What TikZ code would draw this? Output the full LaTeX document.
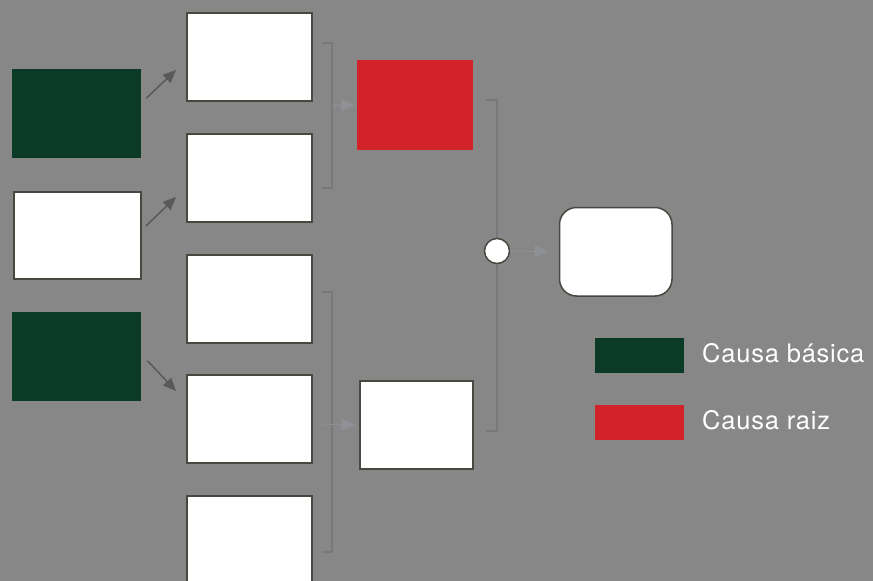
\documentclass[tikz,border=0pt]{standalone}
\usepackage{fontspec}
\newfontfamily\legfont[LetterSpace=3]{TeX Gyre Heros}
\usetikzlibrary{arrows.meta}
\definecolor{bgc}{HTML}{868786}
\definecolor{grn}{HTML}{0B3A27}
\definecolor{rd}{HTML}{D2232A}
\definecolor{bord}{HTML}{4A4640}
\definecolor{darr}{HTML}{58595B}
\definecolor{brk}{HTML}{777878}
\definecolor{larr}{HTML}{909196}
\tikzset{
  wbox/.style={draw=bord, fill=white, line width=2pt, inner sep=0pt, anchor=north west,
    minimum width=#1, minimum height=88pt},
  gbox/.style={fill=grn, inner sep=0pt, anchor=north west, minimum width=129pt, minimum height=89pt},
  rbox/.style={fill=rd, inner sep=0pt, anchor=north west, minimum width=116pt, minimum height=90pt},
  darkarrow/.style={draw=darr, line width=1.5pt, -{Triangle[length=13pt,width=11pt]}},
  lightarrow/.style={draw=larr, line width=1pt, -{Triangle[length=14pt,width=12pt]}},
  bracket/.style={draw=brk, line width=2pt},
  legbox/.style={inner sep=0pt, anchor=north west, minimum width=89pt, minimum height=35pt},
  legtext/.style={text=white, inner sep=0pt, anchor=base west, font=\legfont\fontsize{25.5pt}{29pt}\selectfont}
}
\begin{document}
\begin{tikzpicture}[x=1pt,y=-1pt]
\fill[bgc] (0,0) rectangle (873,581);
\useasboundingbox (0,0) rectangle (873,581);
\clip (0,0) rectangle (873,581);
% left column
\node[gbox] (L1) at (12,69) {};
\node[wbox=127pt, minimum height=87pt] (L2) at (13,191) {};
\node[gbox] (L3) at (12,312) {};
% middle column
\node[wbox=125pt] (M1) at (186,12) {};
\node[wbox=125pt] (M2) at (186,133) {};
\node[wbox=125pt] (M3) at (186,254) {};
\node[wbox=125pt] (M4) at (186,374) {};
\node[wbox=125pt] (M5) at (186,495) {};
% right column
\node[rbox] (R) at (357,60) {};
\node[wbox=113pt] (W2) at (359,380) {};
% junction and final
\coordinate (C0) at (497,251);
% brackets
\coordinate (b1t) at (332,43);
\coordinate (b1b) at (332,188);
\draw[bracket] (322,43) -- (b1t) -- (b1b) -- (322,188);
\coordinate (b2t) at (332,292);
\coordinate (b2b) at (332,552);
\draw[bracket] (322,292) -- (b2t) -- (b2b) -- (322,552);
\coordinate (b3t) at (497,100);
\coordinate (b3b) at (497,431);
\draw[bracket] (486,100) -- (b3t) -- (b3b) -- (486,431);
\node[circle, draw=bord, fill=white, line width=1.5pt, minimum size=25pt, inner sep=0pt] (C) at (C0) {};
\node[draw=bord, fill=white, line width=1.5pt, rounded corners=17pt, inner sep=0pt, anchor=north west,
  minimum width=112.5pt, minimum height=88.5pt] (F) at (558.75,206.75) {};
% light arrows
\coordinate (a1s) at (332,105);
\draw[lightarrow, shorten >=2pt] (a1s) -- (R.west);
\coordinate (a2s) at (322,424);
\draw[lightarrow, shorten >=4pt] (a2s) -- (W2.west);
\draw[lightarrow, shorten >=10pt] (C.east) -- (F.west);
% dark arrows
\draw[darkarrow] ([shift={(5,-15.5)}]L1.east) -- ([shift={(-10,13)}]M1.west);
\draw[darkarrow] ([shift={(4,-9.5)}]L2.east) -- ([shift={(-10,19)}]M2.west);
\draw[darkarrow] ([shift={(6,4)}]L3.east) -- ([shift={(-10,-28)}]M4.west);
% legend
\node[legbox, fill=grn] (LG) at (595,338) {};
\node[legbox, fill=rd] (LR) at (595,405) {};
\node[legtext] (TG) at (702,362.7) {Causa básica};
\node[legtext] (TR) at (702,429.5) {Causa raiz};
\end{tikzpicture}
\end{document}
